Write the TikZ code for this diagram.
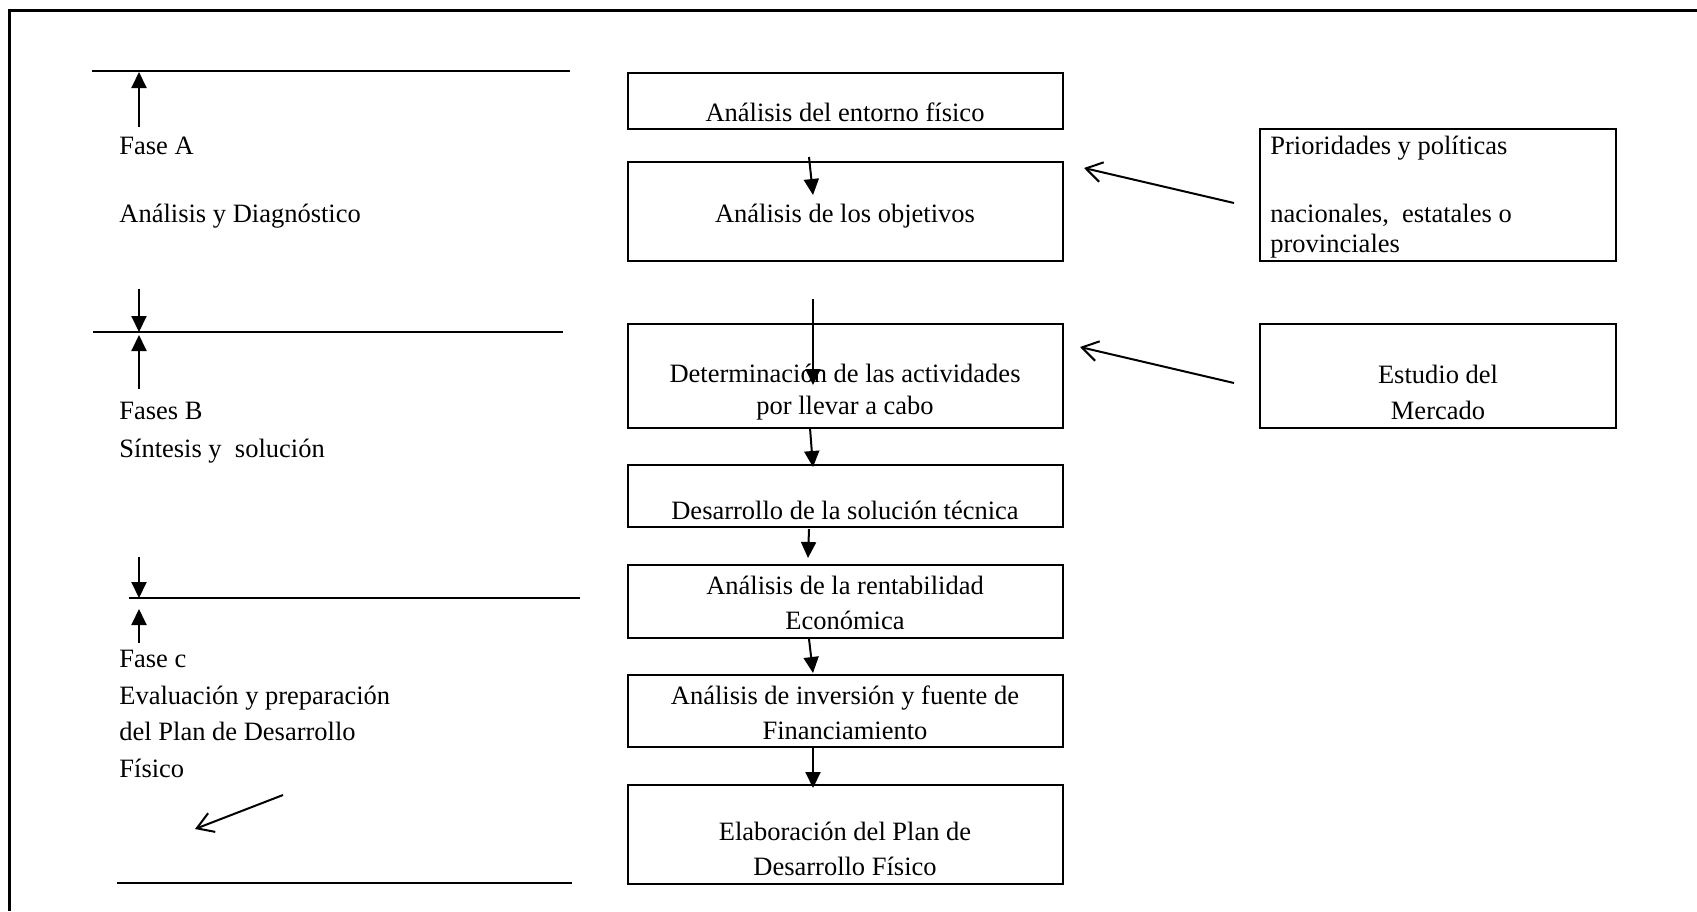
\documentclass[tikz,border=0pt]{standalone}
\usepackage{fontspec}
\setmainfont{Liberation Serif}
\usetikzlibrary{arrows.meta,fit}
\begin{document}
\begin{tikzpicture}[x=0.5pt,y=-0.5pt,
  box/.style={draw,line width=1pt,inner sep=0pt},
  txt/.style={inner sep=0pt,font=\fontsize{13.25}{16}\selectfont},
  lt/.style={txt,anchor=base west},
  ct/.style={txt,anchor=base},
  rule/.style={line width=1pt},
  flow/.style={line width=1pt,-{Triangle[length=8pt,width=7.5pt]}},
  feed/.style={line width=1pt,-{Straight Barb[length=8pt,width=10pt]}},
]
\useasboundingbox (0,0) rectangle (1697,911);
% frame (left and top only)
\draw[line width=1.5pt] (9,911) -- (9,10) -- (1697,10);

% phase rules
\coordinate (r1a) at (92,71);  \coordinate (r1b) at (570,71);
\coordinate (r2a) at (93,332); \coordinate (r2b) at (563,332);
\coordinate (r3a) at (129,598);\coordinate (r3b) at (580,598);
\coordinate (r4a) at (117,883);\coordinate (r4b) at (572,883);
\draw[rule] (r1a) -- (r1b);
\draw[rule] (r2a) -- (r2b);
\draw[rule] (r3a) -- (r3b);
\draw[rule] (r4a) -- (r4b);

% phase arrows
\coordinate (p1s) at (139,127); \coordinate (p1e) at (139,72);
\coordinate (p2s) at (139,289); \coordinate (p2e) at (139,332);
\coordinate (p3s) at (139,389); \coordinate (p3e) at (139,335);
\coordinate (p4s) at (139,557); \coordinate (p4e) at (139,598);
\coordinate (p5s) at (139,643); \coordinate (p5e) at (139,609);
\coordinate (p6s) at (283,795); \coordinate (p6e) at (195,829);
\draw[flow] (p1s) -- (p1e);
\draw[flow] (p2s) -- (p2e);
\draw[flow] (p3s) -- (p3e);
\draw[flow] (p4s) -- (p4e);
\draw[flow] (p5s) -- (p5e);
\draw[feed] (p6s) -- (p6e);

% left phase labels
\node[lt] (fa) at (119,154) {Fase A};
\node[lt] (fa2) at (119,222) {Análisis y Diagnóstico};
\node[lt] (fb) at (119,419) {Fases B};
\node[lt] (fb2) at (119,457) {Síntesis y\ \ solución};
\node[lt] (fc) at (119,667) {Fase c};
\node[lt] (fc2) at (119,704) {Evaluación y preparación};
\node[lt] (fc3) at (119,740) {del Plan de Desarrollo};
\node[lt] (fc4) at (119,777) {Físico};

% central boxes
\node[box, fit={(628,73)(1063,129)}] (b1) {};
\node[box, fit={(628,162)(1063,261)}] (b2) {};
\node[box, fit={(628,324)(1063,428)}] (b3) {};
\node[box, fit={(628,465)(1063,527)}] (b4) {};
\node[box, fit={(628,565)(1063,638)}] (b5) {};
\node[box, fit={(628,675)(1063,747)}] (b6) {};
\node[box, fit={(628,785)(1063,884)}] (b7) {};

\node[ct] (t1) at (845,121) {Análisis del entorno físico};
\node[ct] (t2) at (845,222) {Análisis de los objetivos};
\node[ct] (t3a) at (845,382) {Determinación de las actividades};
\node[ct] (t3b) at (845,414) {por llevar a cabo};
\node[ct] (t4) at (845,519) {Desarrollo de la solución técnica};
\node[ct] (t5a) at (845,594) {Análisis de la rentabilidad};
\node[ct] (t5b) at (845,629) {Económica};
\node[ct] (t6a) at (845,704) {Análisis de inversión y fuente de};
\node[ct] (t6b) at (845,739) {Financiamiento};
\node[ct] (t7a) at (845,840) {Elaboración del Plan de};
\node[ct] (t7b) at (845,875) {Desarrollo Físico};

% flow arrows
\coordinate (f1s) at (809,157); \coordinate (f1e) at (813,195);
\coordinate (f2s) at (813,299); \coordinate (f2e) at (813,385);
\coordinate (f3s) at (810,428); \coordinate (f3e) at (813,467);
\coordinate (f4s) at (809,529); \coordinate (f4e) at (808,558);
\coordinate (f5s) at (809,639); \coordinate (f5e) at (813,673);
\coordinate (f6s) at (813,746); \coordinate (f6e) at (813,788);
\draw[flow] (f1s) -- (f1e);
\draw[flow] (f2s) -- (f2e);
\draw[flow] (f3s) -- (f3e);
\draw[flow] (f4s) -- (f4e);
\draw[flow] (f5s) -- (f5e);
\draw[flow] (f6s) -- (f6e);

% right boxes
\node[box, fit={(1260,129)(1616,261)}] (bp) {};
\node[box, fit={(1260,324)(1616,428)}] (bm) {};
\node[lt] (tp1) at (1270,154) {Prioridades y políticas};
\node[lt] (tp2) at (1270,222) {nacionales,\ \ estatales o};
\node[lt] (tp3) at (1270,252) {provinciales};
\node[ct] (tm1) at (1438,383) {Estudio del};
\node[ct] (tm2) at (1438,419) {Mercado};

% feed arrows
\coordinate (g1s) at (1234,203); \coordinate (g1e) at (1084,168);
\coordinate (g2s) at (1234,383); \coordinate (g2e) at (1080,347);
\draw[feed] (g1s) -- (g1e);
\draw[feed] (g2s) -- (g2e);
\end{tikzpicture}
\end{document}
